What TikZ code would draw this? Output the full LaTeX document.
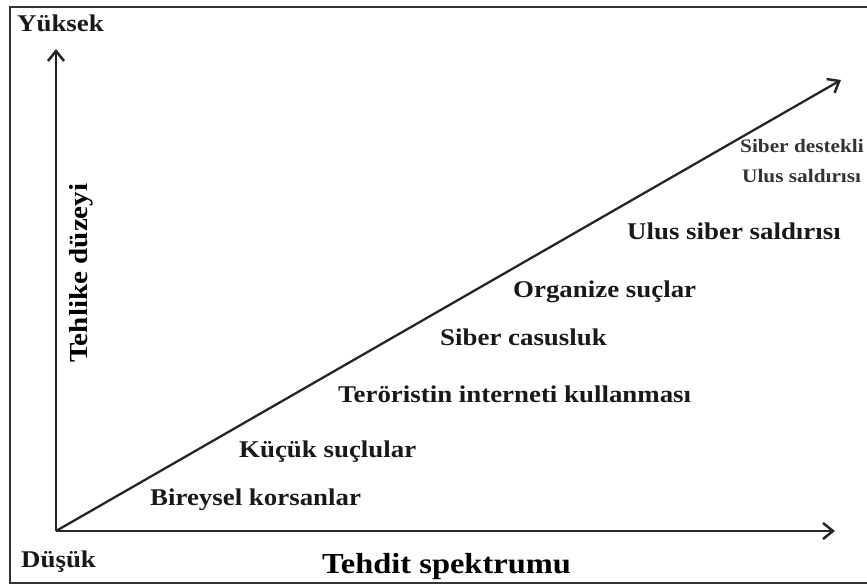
\documentclass[tikz,border=0pt]{standalone}
\usepackage{fontspec}
\setmainfont[FakeStretch=1.12]{Liberation Serif}
\usetikzlibrary{arrows.meta}
\begin{document}
\begin{tikzpicture}[x=1pt,y=-1pt,
  lbl/.style={font=\bfseries\fontsize{24}{28}\selectfont, anchor=base west, inner sep=0pt, text=black!90},
  small/.style={font=\bfseries\fontsize{19}{22}\selectfont, anchor=base west, inner sep=0pt, text=black!80},
  title/.style={font=\bfseries\fontsize{29}{34}\selectfont, anchor=base west, inner sep=0pt, text=black},
  frame/.style={draw=black!80, line width=1.8pt},
  axis/.style={draw=black!85, line width=2.3pt, -{Straight Barb[length=10pt,width=16pt,line width=2.5pt]}}]
\useasboundingbox (0,0) rectangle (867,585);
\draw[frame] (10,7) rectangle (880,583);
\coordinate (O) at (56,531);
\coordinate (Ytop) at (56,49);
\coordinate (Xend) at (835,531);
\coordinate (Dend) at (841,80);
\draw[axis] (O) -- (Ytop);
\draw[axis] (O) -- (Xend);
\draw[axis] (O) -- (Dend);
\node[lbl] (yuksek) at (17,32) {Yüksek};
\node[lbl] (dusuk) at (21,567) {Düşük};
\node[title] (xlab) at (322,573) {Tehdit spektrumu};
\node[title, font=\bfseries\fontsize{26}{30}\selectfont, rotate=90] (ylab) at (87,363) {Tehlike düzeyi};
\node[lbl] (l1) at (150,505) {Bireysel korsanlar};
\node[lbl] (l2) at (239,457) {Küçük suçlular};
\node[lbl] (l3) at (338,402) {Teröristin interneti kullanması};
\node[lbl] (l4) at (440,345) {Siber casusluk};
\node[lbl] (l5) at (513,298) {Organize suçlar};
\node[lbl] (l6) at (627,240) {Ulus siber saldırısı};
\node[small] (l7) at (740,153) {Siber destekli};
\node[small] (l8) at (742,183) {Ulus saldırısı};
\end{tikzpicture}
\end{document}
